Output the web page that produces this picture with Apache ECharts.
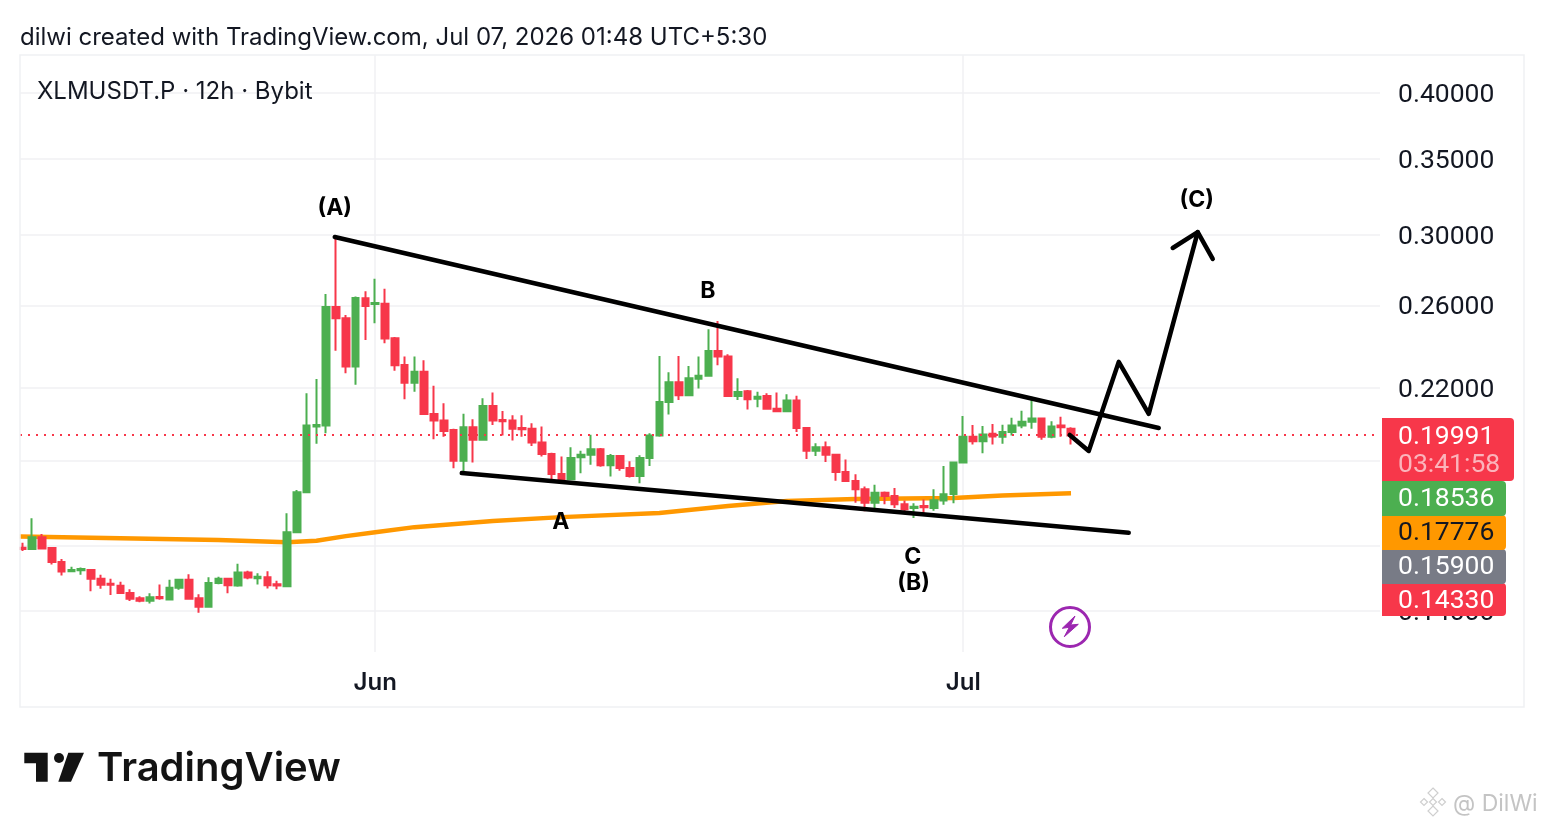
<!DOCTYPE html>
<html><head><meta charset="utf-8">
<style>html,body{margin:0;padding:0;background:#fff;overflow:hidden}#c{width:1544px;height:828px}</style>
<script src="https://cdn.jsdelivr.net/npm/echarts@6/dist/echarts.min.js"></script>
</head><body><div id="c"></div>
<script>
var openP=[.1592,.1588,.1626,.1591,.1547,.1518,.1521,.1522,.1495,.1480,
.1474,.1453,.1437,.1430,.1441,.1434,.1468,.1492,.1437,.1413,
.1482,.1495,.1475,.1514,.1497,.1500,.1479,.1473,.1643,.1782,
.2035,.2039,.2593,.2534,.2298,.2639,.2609,.2610,.2434,.2305,
.2224,.2274,.2088,.2060,.2021,.1899,.2032,.1981,.2122,.2062,
.2060,.2029,.2026,.1970,.1925,.1849,.1829,.1912,.1922,.1944,
.1882,.1917,.1871,.1841,.1910,.1999,.2139,.2226,.2168,.2242,
.2256,.2372,.2346,.2165,.2186,.2153,.2165,.2110,.2099,.2145,
.2029,.1938,.1952,.1922,.1856,.1823,.1792,.1744,.1780,.1768,
.1739,.1726,.1733,.1726,.1752,.1775,.1892,.1994,.1975,.2006,
.1994,.2013,.2040,.2055,.2069,.1994,.2039,.2026];
var closeP=[.1588,.1626,.1590,.1547,.1517,.1522,.1525,.1495,.1477,.1477,
.1453,.1436,.1430,.1440,.1437,.1468,.1492,.1436,.1413,.1482,
.1495,.1476,.1514,.1499,.1501,.1476,.1475,.1643,.1782,.2039,
.2042,.2593,.2534,.2298,.2641,.2598,.2614,.2432,.2304,.2224,
.2274,.2088,.2060,.2017,.1899,.2032,.1981,.2122,.2060,.2057,
.2026,.2024,.1970,.1925,.1849,.1829,.1910,.1922,.1944,.1882,
.1917,.1871,.1841,.1910,.1999,.2139,.2226,.2168,.2244,.2256,
.2372,.2346,.2165,.2183,.2151,.2162,.2110,.2099,.2145,.2029,
.1938,.1952,.1922,.1856,.1823,.1792,.1744,.1780,.1768,.1739,
.1721,.1730,.1728,.1753,.1774,.1892,.1994,.1975,.2003,.1995,
.2013,.2040,.2055,.2069,.1994,.2035,.2032,.19991];
var highP=[.1608,.1690,.1637,.1591,.1556,.1532,.1530,.1524,.1507,.1495,
.1486,.1464,.1443,.1452,.1478,.1492,.1494,.1509,.1449,.1500,
.1501,.1498,.1541,.1520,.1512,.1518,.1489,.1707,.1790,.2177,
.2241,.2662,.2990,.2551,.2648,.2677,.2746,.2691,.2440,.2346,
.2346,.2328,.2211,.2133,.2026,.2089,.2066,.2155,.2181,.2100,
.2082,.2082,.2049,.2035,.1930,.1915,.1952,.1938,.2002,.1949,
.1925,.1917,.1897,.1920,.2008,.2348,.2272,.2348,.2301,.2345,
.2478,.2520,.2356,.2244,.2192,.2184,.2177,.2181,.2173,.2166,
.2029,.1967,.1974,.1925,.1904,.1848,.1802,.1809,.1784,.1797,
.1752,.1742,.1756,.1792,.1879,.1896,.2079,.2042,.2037,.2046,
.2043,.2072,.2101,.2162,.2072,.2057,.2076,.2032];
var lowP=[.1582,.1588,.1587,.1539,.1505,.1518,.1507,.1458,.1465,.1447,
.1453,.1429,.1426,.1422,.1433,.1434,.1462,.1434,.1396,.1413,
.1479,.1452,.1471,.1494,.1478,.1466,.1464,.1473,.1643,.1782,
.1965,.2008,.2373,.2267,.2215,.2425,.2509,.2409,.2279,.2151,
.2184,.2088,.1983,.1994,.1870,.1851,.1892,.1981,.2042,.1999,
.1978,.1994,.1957,.1915,.1819,.1816,.1829,.1851,.1884,.1876,
.1839,.1861,.1836,.1814,.1879,.1994,.2085,.2148,.2168,.2198,
.2256,.2304,.2165,.2148,.2107,.2116,.2110,.2096,.2096,.2013,
.1906,.1917,.1894,.1824,.1822,.1744,.1714,.1721,.1739,.1726,
.1709,.1691,.1702,.1716,.1737,.1742,.1892,.1962,.1928,.1962,
.1965,.1999,.2028,.2026,.1981,.1988,.1994,.1962];
var maLine=[[-0.28,.1629],[10,.1623],[20,.1617],[27,.1610],[30,.1615],[33,.1630],[36,.1643],[40,.1660],[48,.1681],[55,.1694],[65,.1708],[72,.1733],[78,.1750],[85,.1757],[95,.1761],[100,.1770],[107,.17776]];
var trendUpper=[[31.87,.2988],[115.95,.2029]];
var trendLower=[[44.83,.1852],[112.89,.1641]];
var wavePath=[[106.87,.2001],[108.81,.1937],[111.87,.2320],[114.93,.2088],[119.93,.3018]];
var arrowHead=[[117.38,.2922],[119.93,.3018],[121.46,.2858]];
var waveLabels=[[31.87,.3181,'(A)'],[69.93,.2689,'B'],[54.93,.1684,'A'],[90.84,.1569,'C'],[90.94,.1488,'(B)'],[119.83,.3234,'(C)']];
var priceTicks=[.14,.16,.19,.22,.26,.30,.35,.40];
var monthTicks=[36,96];
var monthLabels=['Jun','Jul'];
var lastPrice=.19991;
var tagValues=['0.18536','0.17776','0.15900','0.14330'];
var tagColors=['#4caf50','#ff9800','#787b86','#f7374a'];
var tagText=['#fff','#131722','#fff','#fff'];
var FONT='Inter',NUM='Roboto';
var RED='#f7374a',GREEN='#4caf50';
var candles=openP.map(function(o,i){return [i,o,closeP[i],lowP[i],highP[i]];});

function lineS(d,w,c,z,clip,cap){return {type:'line',data:d,showSymbol:false,symbol:'none',silent:true,z:z,
 lineStyle:{width:w,color:c,cap:cap||'round',join:'round'},clip:!!clip,animation:false};}

var g=[];
g.push({type:'rect',z:30,shape:{x:0,y:55,width:19.5,height:600},style:{fill:'#fff'}});
g.push({type:'rect',z:31,shape:{x:20,y:55,width:1504,height:652},style:{fill:'none',stroke:'#f0f1f3',lineWidth:1.5}});
g.push({type:'text',z:60,x:20,y:38,style:{text:'dilwi created with TradingView.com, Jul 07, 2026 01:48 UTC+5:30',font:'400 24px '+FONT,fill:'#131722',textVerticalAlign:'middle'}});
g.push({type:'text',z:60,x:37,y:92,style:{text:'XLMUSDT.P · 12h · Bybit',font:'400 24px '+FONT,fill:'#131722',textVerticalAlign:'middle'}});
function tag(y,h,w,fill){g.push({type:'rect',z:50,shape:{x:1382,y:y,width:w,height:h,r:[0,4,4,0]},style:{fill:fill}});}
tagValues.slice().reverse().forEach(function(t,j){var i=tagValues.length-1-j;var y=481+i*34;tag(y,i==3?33:35,124,tagColors[i]);
 g.push({type:'text',z:51,x:1398,y:y+18,style:{text:t,font:'400 26.5px '+NUM,fill:tagText[i],textVerticalAlign:'middle'}});});
tag(418,63,132,RED);
g.push({type:'text',z:51,x:1398,y:437,style:{text:'0.19991',font:'400 26.5px '+NUM,fill:'#fff',textVerticalAlign:'middle'}});
g.push({type:'text',z:51,x:1398,y:465,style:{text:'03:41:58',font:'400 26.5px '+NUM,fill:'#fbb4bb',textVerticalAlign:'middle'}});
g.push({type:'circle',z:40,shape:{cx:1070,cy:627,r:19.5},style:{fill:'#fff',stroke:'#9c27b0',lineWidth:3}});
g.push({type:'polygon',z:41,shape:{points:[[1075,616],[1062.3,628.3],[1069.3,627.3],[1064.3,636.7],[1078.3,624.3],[1070.7,625]]},style:{fill:'#9c27b0',stroke:'#9c27b0',lineWidth:1}});
g.push({type:'polygon',shape:{points:[[24.3,752.7],[47.7,752.7],[47.7,781.7],[36,781.7],[36,763.3],[24.3,763.3]]},style:{fill:'#131313'}});
g.push({type:'circle',shape:{cx:59,cy:758,r:5},style:{fill:'#131313'}});
g.push({type:'polygon',shape:{points:[[68.3,752.7],[84,752.7],[71,781.7],[58.3,781.7]]},style:{fill:'#131313'}});
g.push({type:'text',x:97,y:769,style:{text:'TradingView',font:'600 40px '+FONT,fill:'#131313',textVerticalAlign:'middle'}});
[[1433,793,5],[1424,802,3.5],[1442,802,3.5],[1433,802,3.5],[1433,811,5]].forEach(function(p){
 g.push({type:'polygon',shape:{points:[[p[0],p[1]-p[2]],[p[0]+p[2],p[1]],[p[0],p[1]+p[2]],[p[0]-p[2],p[1]]]},style:{fill:'#fff',stroke:'#cfcfcf',lineWidth:1.2}});});
g.push({type:'text',x:1453,y:804,style:{text:'@ DilWi',font:'400 23px '+FONT,fill:'#c4c4c4',textVerticalAlign:'middle'}});

var chart=echarts.init(document.getElementById('c'),null,{renderer:'canvas'});
chart.setOption({
 animation:false,backgroundColor:'#fff',
 graphic:{elements:g},
 grid:{left:20,right:164,top:55,bottom:176,containLabel:false},
 xAxis:{type:'value',min:-0.25,max:138.53,
  axisLine:{show:false},
  axisTick:{show:false,customValues:monthTicks},
  splitLine:{show:true,lineStyle:{color:'#f0f1f3',width:1.5}},
  axisLabel:{customValues:monthTicks,margin:19,color:'#131722',fontFamily:FONT,fontSize:24,fontWeight:600,
   formatter:function(v){return monthLabels[monthTicks.indexOf(v)];}}},
 yAxis:{type:'log',logBase:10,position:'right',min:.1289,max:.4320,
  axisLine:{show:false},
  axisTick:{show:false,customValues:priceTicks},
  splitLine:{show:true,lineStyle:{color:'#f0f1f3',width:1.5}},
  axisLabel:{customValues:priceTicks,margin:18,color:'#131722',fontFamily:NUM,fontSize:26.5,verticalAlign:'top',lineHeight:4,
   formatter:function(v){return v.toFixed(5);}}},
 series:[
  lineS(maLine,4.5,'#ff9800',2,true,'butt'),
  {type:'candlestick',z:3,data:candles,barWidth:7,silent:true,
   itemStyle:{color:GREEN,color0:RED,borderColor:GREEN,borderColor0:RED,borderWidth:2},
   markLine:{silent:true,symbol:'none',animation:false,label:{show:false},
    lineStyle:{color:RED,type:[2,6],width:2},data:[{yAxis:lastPrice}]}},
  lineS(trendUpper,4.5,'#000',5),
  lineS(trendLower,4.5,'#000',5),
  lineS(wavePath,4.5,'#000',5),
  lineS(arrowHead,4.5,'#000',5),
  {type:'scatter',z:6,symbolSize:0,silent:true,clip:false,
   data:waveLabels.map(function(r){return {value:[r[0],r[1]],name:r[2]};}),
   label:{show:true,position:'inside',offset:[0,2],formatter:'{b}',color:'#000',opacity:1,fontFamily:FONT,fontSize:23,fontWeight:700,textBorderWidth:0}}
 ]
});
</script></body></html>
